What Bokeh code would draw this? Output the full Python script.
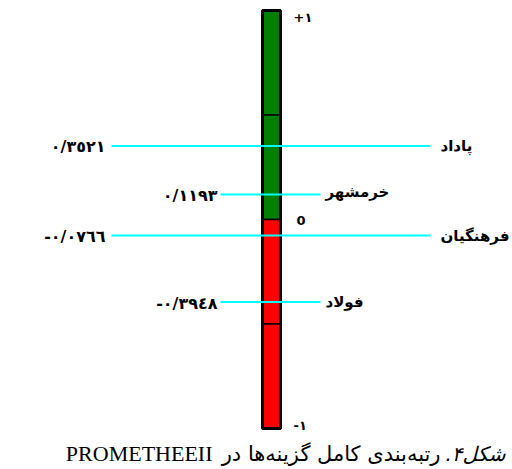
from bokeh.plotting import figure
from bokeh.models import Range1d, ColumnDataSource, Label
from bokeh.core.properties import value
from bokeh.embed import file_html
from bokeh.resources import INLINE

# ---------------- data ----------------
names = ["پاداد", "خرمشهر", "فرهنگیان", "فولاد"]
scores = [0.3521, 0.1193, -0.0766, -0.3948]
score_labels = ["٠/٣٥٢١", "٠/١١٩٣", "-٠/٠٧٦٦", "-٠/٣٩٤٨"]
segment_bounds = [1.0, 0.5, 0.0, -0.5, -1.0]
segment_colors = ["#007f00", "#007f00", "#ff0000", "#ff0000"]
tick_values = [1.0, 0.0, -1.0]
tick_labels = ["+١", "0", "-١"]
caption_fig = "شکل۴.\u200f"
caption_fa = "رتبه‌بندی کامل گزینه‌ها در"
caption_en = "PROMETHEEII"

# ---------------- layout (page px) ----------------
W, H = 512, 469
PX_PER_UNIT = 209.0
ZERO_Y = 219.0   # page y of value 0
y_top = ZERO_Y / PX_PER_UNIT
y_bot = (ZERO_Y - H) / PX_PER_UNIT

bar_left, bar_right = 262, 280
tiers = ["far", "near", "far", "near"]
tier_layout = {
    "far": dict(x0=111, x1=430, val_right=105, name_left=440),
    "near": dict(x0=220, x1=320, val_right=217, name_left=325),
}
name_dy = [0, -3, 0, 0]

p = figure(width=W, height=H, output_backend="svg", toolbar_location=None,
           x_range=Range1d(0, W), y_range=Range1d(y_bot, y_top),
           min_border=0, x_axis_location=None, y_axis_location=None)
p.grid.visible = False
p.outline_line_color = None
p.background_fill_color = "white"

# bar made of quarter segments
seg = ColumnDataSource(dict(
    top=segment_bounds[:-1], bottom=segment_bounds[1:],
    left=[bar_left] * 4, right=[bar_right] * 4, color=segment_colors))
p.quad(left="left", right="right", top="top", bottom="bottom", source=seg,
       fill_color="color", line_color="black", line_width=1.5)
# thick outer border
p.quad(left=[bar_left], right=[bar_right], top=[segment_bounds[0]],
       bottom=[segment_bounds[-1]], fill_color=None, line_color="black",
       line_width=3)

# cyan score lines
x0s = [tier_layout[t]["x0"] for t in tiers]
x1s = [tier_layout[t]["x1"] for t in tiers]
p.segment(x0=x0s, x1=x1s, y0=scores, y1=scores, line_color="#00ffff",
          line_width=2)

# value labels on the left
p.text(x=[tier_layout[t]["val_right"] for t in tiers], y=scores,
       y_offset=[1, 1, 1, 1],
       text=score_labels, text_align="right", text_baseline="middle",
       text_font=value("DejaVu Sans"), text_font_style="bold",
       text_font_size="16px", text_color="black")

# alternative names on the right
p.text(x=[tier_layout[t]["name_left"] for t in tiers], y=scores,
       y_offset=name_dy, text=names, text_align="left",
       text_baseline="middle", text_font=value("DejaVu Sans"),
       text_font_style="bold", text_font_size="15px", text_color="black")

# scale labels
p.text(x=[293, 296, 293], y=tick_values, y_offset=[7, 1, -3],
       text=tick_labels, text_align="left", text_baseline="middle",
       text_font=value("DejaVu Sans"), text_font_style="bold",
       text_font_size="13px", text_color="black")

# caption (right-to-left: figure number at right, English term at left)
base = 16
p.add_layout(Label(x=505, y=base, x_units="screen", y_units="screen",
                   text=caption_fig, text_align="right",
                   text_baseline="alphabetic",
                   text_font="DejaVu Sans", text_font_style="italic",
                   text_font_size="20px", text_color="black"))
p.add_layout(Label(x=440, y=base, x_units="screen", y_units="screen",
                   text=caption_fa, text_align="right",
                   text_baseline="alphabetic",
                   text_font="DejaVu Sans", text_font_style="normal",
                   text_font_size="21px", text_color="black"))
p.add_layout(Label(x=212, y=base, x_units="screen", y_units="screen",
                   text=caption_en, text_align="right",
                   text_baseline="alphabetic",
                   text_font="Liberation Serif", text_font_style="normal",
                   text_font_size="22px", text_color="black"))

open("out.html", "w").write(file_html(p, INLINE))
